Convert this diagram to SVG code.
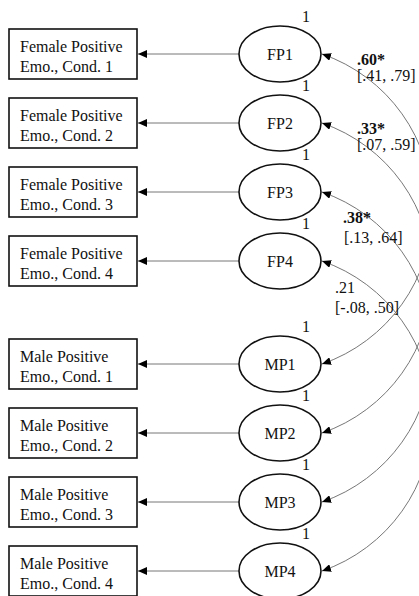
<svg xmlns="http://www.w3.org/2000/svg" width="419" height="596" viewBox="0 0 419 596">
<style>
text{font-family:"Liberation Serif","Times New Roman",serif;font-size:16px;fill:#111}
.box{fill:#fff;stroke:#111;stroke-width:1.6}
.lat{fill:#fff;stroke:#111;stroke-width:1.6}
.c{text-anchor:middle}
.ln{fill:none;stroke:#777;stroke-width:1}
.b{font-weight:bold}
</style>
<defs>
<marker id="ah" markerUnits="userSpaceOnUse" markerWidth="10" markerHeight="8" refX="9" refY="4" orient="auto-start-reverse" viewBox="0 0 10 8">
<path d="M0,0 L9,4 L0,8 z" fill="#000"/>
</marker>
</defs>
<g id="connectors">
<path class="ln" d="M239,54 H138" marker-end="url(#ah)"/>
<path class="ln" d="M239,123 H138" marker-end="url(#ah)"/>
<path class="ln" d="M239,192 H138" marker-end="url(#ah)"/>
<path class="ln" d="M239,261 H138" marker-end="url(#ah)"/>
<path class="ln" d="M239,364 H138" marker-end="url(#ah)"/>
<path class="ln" d="M239,433 H138" marker-end="url(#ah)"/>
<path class="ln" d="M239,502 H138" marker-end="url(#ah)"/>
<path class="ln" d="M239,571 H138" marker-end="url(#ah)"/>
<path class="ln" d="M322,54 A164,164 0 0 1 322,364" marker-start="url(#ah)" marker-end="url(#ah)"/>
<path class="ln" d="M322,123 A164,164 0 0 1 322,433" marker-start="url(#ah)" marker-end="url(#ah)"/>
<path class="ln" d="M322,192 A164,164 0 0 1 322,502" marker-start="url(#ah)" marker-end="url(#ah)"/>
<path class="ln" d="M322,261 A164,164 0 0 1 322,571" marker-start="url(#ah)" marker-end="url(#ah)"/>
<text class="b" x="357" y="65">.60*</text>
<text x="357" y="81">[.41, .79]</text>
<text class="b" x="357" y="134">.33*</text>
<text x="357" y="150">[.07, .59]</text>
<text class="b" x="343" y="223">.38*</text>
<text x="344" y="243">[.13, .64]</text>
<text x="335" y="293">.21</text>
<text x="335" y="313">[-.08, .50]</text>
</g>
<g id="box-f1"><rect class="box" x="9" y="29" width="128" height="50"/><text x="20" y="52">Female Positive</text><text x="20" y="72">Emo., Cond. 1</text></g>
<g id="box-f2"><rect class="box" x="9" y="98" width="128" height="50"/><text x="20" y="121">Female Positive</text><text x="20" y="141">Emo., Cond. 2</text></g>
<g id="box-f3"><rect class="box" x="9" y="167" width="128" height="50"/><text x="20" y="190">Female Positive</text><text x="20" y="210">Emo., Cond. 3</text></g>
<g id="box-f4"><rect class="box" x="9" y="236" width="128" height="50"/><text x="20" y="259">Female Positive</text><text x="20" y="279">Emo., Cond. 4</text></g>
<g id="box-m1"><rect class="box" x="9" y="339" width="128" height="50"/><text x="20" y="362">Male Positive</text><text x="20" y="382">Emo., Cond. 1</text></g>
<g id="box-m2"><rect class="box" x="9" y="408" width="128" height="50"/><text x="20" y="431">Male Positive</text><text x="20" y="451">Emo., Cond. 2</text></g>
<g id="box-m3"><rect class="box" x="9" y="477" width="128" height="50"/><text x="20" y="500">Male Positive</text><text x="20" y="520">Emo., Cond. 3</text></g>
<g id="box-m4"><rect class="box" x="9" y="546" width="128" height="50"/><text x="20" y="569">Male Positive</text><text x="20" y="589">Emo., Cond. 4</text></g>
<g id="FP1"><ellipse class="lat" cx="280" cy="54" rx="41" ry="28"/><text class="c" x="280" y="60">FP1</text><text class="c" x="306" y="22">1</text></g>
<g id="FP2"><ellipse class="lat" cx="280" cy="123" rx="41" ry="28"/><text class="c" x="280" y="129">FP2</text><text class="c" x="306" y="91">1</text></g>
<g id="FP3"><ellipse class="lat" cx="280" cy="192" rx="41" ry="28"/><text class="c" x="280" y="198">FP3</text><text class="c" x="306" y="160">1</text></g>
<g id="FP4"><ellipse class="lat" cx="280" cy="261" rx="41" ry="28"/><text class="c" x="280" y="267">FP4</text><text class="c" x="306" y="229">1</text></g>
<g id="MP1"><ellipse class="lat" cx="280" cy="364" rx="41" ry="28"/><text class="c" x="280" y="370">MP1</text><text class="c" x="306" y="332">1</text></g>
<g id="MP2"><ellipse class="lat" cx="280" cy="433" rx="41" ry="28"/><text class="c" x="280" y="439">MP2</text><text class="c" x="306" y="401">1</text></g>
<g id="MP3"><ellipse class="lat" cx="280" cy="502" rx="41" ry="28"/><text class="c" x="280" y="508">MP3</text><text class="c" x="306" y="470">1</text></g>
<g id="MP4"><ellipse class="lat" cx="280" cy="571" rx="41" ry="28"/><text class="c" x="280" y="577">MP4</text><text class="c" x="306" y="539">1</text></g>
</svg>
